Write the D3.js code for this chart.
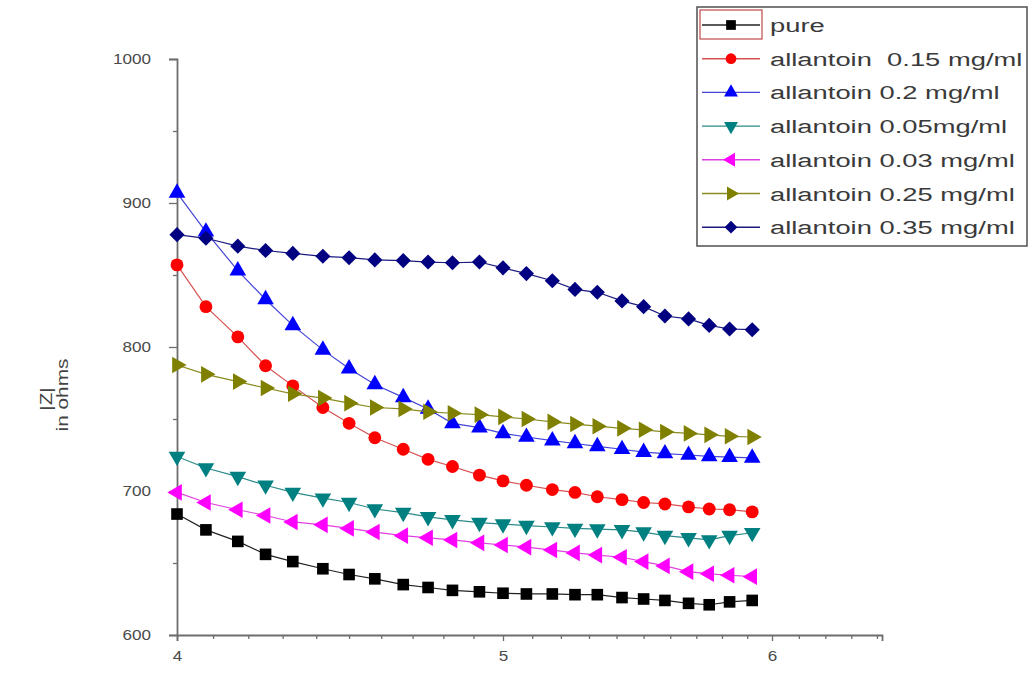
<!DOCTYPE html>
<html>
<head>
<meta charset="utf-8">
<script src="https://cdn.jsdelivr.net/npm/d3@7"></script>
<style>
  html, body { margin: 0; padding: 0; background: #fff; }
  svg { display: block; font-family: "Liberation Sans", Arial, sans-serif; }
</style>
</head>
<body>
<svg id="chart" width="1031" height="675"></svg>
<script>
// ---------- data ----------
const freq = [4.00, 4.08, 4.17, 4.25, 4.33, 4.42, 4.50, 4.58, 4.67, 4.75, 4.83, 4.92,
              5.00, 5.08, 5.17, 5.25, 5.33, 5.42, 5.50, 5.58, 5.67, 5.75, 5.83, 5.92];

const pure   = [684, 673, 665, 656, 651, 646, 642, 639, 635, 633, 631, 630,
                629, 628.5, 628.5, 628, 628, 626, 625, 624, 622, 621, 623, 624];
const a015   = [857, 828, 807, 787, 773, 758, 747, 737, 729, 722, 717, 711,
                707, 704, 701, 699, 696, 694, 692, 691, 689, 687.5, 687, 685.5];
const a02    = [907, 880, 853, 833, 815, 798, 785, 774, 765, 757, 747, 744,
                740, 737.5, 735, 733, 731, 729, 727, 726, 725, 724, 723.5, 723];
const a005   = [724, 716, 710, 704, 699, 695, 692, 687.5, 685, 682, 680, 678,
                677, 676, 675, 674, 673.5, 673, 671.5, 669, 667.5, 666, 669, 671];
const a003   = [699, 692, 687, 683, 678.5, 676.5, 674, 671.5, 669, 667.5, 666, 664,
                662.5, 661, 659, 657, 655.5, 654, 651, 648, 644, 642.5, 641.5, 640.5];
const a025   = [787.5, 781, 776, 771.5, 767.5, 764.5, 761, 758, 757, 755, 754, 753,
                751.5, 750, 748, 746.5, 745, 743.5, 742.5, 741, 740, 739, 738, 737.5];
const a035   = [878, 875.5, 870, 867, 865, 863, 862, 860.5, 860, 859, 858.5, 859,
                855, 851, 846, 840, 838, 832, 828, 821.5, 819.5, 815, 812.5, 812];

const seriesNames = ["pure", "allantoin  0.15 mg/ml", "allantoin 0.2 mg/ml", "allantoin 0.05mg/ml",
                     "allantoin 0.03 mg/ml", "allantoin 0.25 mg/ml", "allantoin 0.35 mg/ml"];
const seriesValues = [pure, a015, a02, a005, a003, a025, a035];

const yTickValues = [600, 700, 800, 900, 1000];
const yTickLabels = ["600", "700", "800", "900", "1000"];
const yMinorTicks = [650, 750, 850, 950];
const xTickValues = [4, 5, 6];
const xTickLabels = ["4", "5", "6"];
const xMinorTicks = [4.1, 4.2, 4.3, 4.4, 4.5, 4.6, 4.7, 4.8, 4.9,
                     5.1, 5.2, 5.3, 5.4, 5.5, 5.6, 5.7, 5.8, 5.9,
                     6.1, 6.2, 6.3, 6.4];
const yTitle = ["|Z|", "in ohms"];

// ---------- styles ----------
const colors  = ["#000000", "#ff0000", "#0000ff", "#008080", "#ff00ff", "#808000", "#000080"];
const lineCol = ["#222222", "#d85050", "#4545d8", "#2a8a8a", "#e040e0", "#8a8a20", "#1a1a80"];
const shapes = [
  {type: d3.symbolSquare,   size: 135, rot: 0},
  {type: d3.symbolCircle,   size: 130, rot: 0},
  {type: d3.symbolTriangle, size: 120, rot: 0},
  {type: d3.symbolTriangle, size: 120, rot: 180},
  {type: d3.symbolTriangle, size: 120, rot: -90},
  {type: d3.symbolTriangle, size: 120, rot: 90},
  {type: d3.symbolSquare,   size: 115, rot: 45}
];

const svg = d3.select("#chart");

// ---------- scales ----------
const x = d3.scaleLog().domain([4, 5, 6, 6.42]).range([177, 503, 772, 882]);
const y = d3.scaleLinear().domain([600, 1000]).range([635, 59]);

const axisColor = "#6e6e6e";
const tickTextColor = "#4a4a4a";
const sx = 1.18;

// ---------- x axis ----------
const gx = svg.append("g").attr("transform", `translate(0,${y(600)})`);
gx.call(d3.axisBottom(x).tickValues(xTickValues).tickSizeOuter(0).tickSize(6)
        .tickFormat((d, i) => xTickLabels[i]));
const gxm = svg.append("g").attr("transform", `translate(0,${y(600)})`);
gxm.call(d3.axisBottom(x).tickValues(xMinorTicks).tickSizeOuter(0).tickSize(4).tickFormat(""));
gxm.select(".domain").remove();
[gx, gxm].forEach(g => {
  g.selectAll(".domain").attr("stroke", axisColor).attr("stroke-width", 1.8);
  g.selectAll(".tick line").attr("stroke", axisColor).attr("stroke-width", 1.3);
});
gx.selectAll(".tick text")
  .attr("fill", tickTextColor).attr("font-size", 14.5)
  .attr("font-family", "Liberation Sans, Arial, sans-serif")
  .attr("y", 16).attr("transform", `scale(${sx},1)`);

// ---------- y axis ----------
const gy = svg.append("g").attr("transform", `translate(${x(4)},0)`);
gy.call(d3.axisLeft(y).tickValues(yTickValues).tickSizeOuter(0).tickSize(8)
        .tickFormat((d, i) => yTickLabels[i]));
const gym = svg.append("g").attr("transform", `translate(${x(4)},0)`);
gym.call(d3.axisLeft(y).tickValues(yMinorTicks).tickSizeOuter(0).tickSize(4).tickFormat(""));
gym.select(".domain").remove();
[gy, gym].forEach(g => {
  g.selectAll(".domain").attr("stroke", axisColor).attr("stroke-width", 1.8);
  g.selectAll(".tick line").attr("stroke", axisColor).attr("stroke-width", 1.3);
});
gy.selectAll(".tick text")
  .attr("fill", tickTextColor).attr("font-size", 14.5)
  .attr("font-family", "Liberation Sans, Arial, sans-serif")
  .attr("x", -26 / sx).attr("transform", `scale(${sx},1)`);

// ---------- y title ----------
const tt = svg.append("g").attr("fill", "#444")
  .attr("font-size", 16).attr("text-anchor", "middle");
tt.append("text").text(yTitle[0])
  .attr("transform", "translate(52,399) rotate(-90) scale(1.3,1)");
tt.append("text").text(yTitle[1])
  .attr("transform", "translate(68,395) rotate(-90) scale(1.3,1)");

// ---------- series ----------
const line = d3.line().x((d, i) => x(freq[i])).y(d => y(d));
seriesValues.forEach((vals, s) => {
  const g = svg.append("g");
  g.append("path").datum(vals)
    .attr("d", line).attr("fill", "none")
    .attr("stroke", lineCol[s]).attr("stroke-width", 1.2);
  const sym = d3.symbol().type(shapes[s].type).size(shapes[s].size);
  g.selectAll("path.m").data(vals).join("path").attr("class", "m")
    .attr("d", sym)
    .attr("transform", (d, i) => `translate(${x(freq[i])},${y(d)}) rotate(${shapes[s].rot})`)
    .attr("fill", colors[s]);
});

// ---------- legend ----------
const lg = svg.append("g");
lg.append("rect").attr("x", 697).attr("y", 7).attr("width", 330).attr("height", 239)
  .attr("fill", "#fff").attr("stroke", "#5a5a5a").attr("stroke-width", 1.6);
lg.append("rect").attr("x", 700).attr("y", 10).attr("width", 62).attr("height", 29)
  .attr("fill", "none").attr("stroke", "#c04848").attr("stroke-width", 1.2);
seriesNames.forEach((name, s) => {
  const cy = 25 + s * 33.7;
  lg.append("line").attr("x1", 702).attr("x2", 760).attr("y1", cy).attr("y2", cy)
    .attr("stroke", lineCol[s]).attr("stroke-width", 1.4);
  const sym = d3.symbol().type(shapes[s].type).size(shapes[s].size * 0.7);
  lg.append("path").attr("d", sym)
    .attr("transform", `translate(731,${cy}) rotate(${shapes[s].rot})`)
    .attr("fill", colors[s]);
  lg.append("text").text(name)
    .attr("transform", `translate(770,${cy + 7}) scale(1.44,1)`)
    .attr("font-size", 19).attr("fill", "#3a3a3a").style("white-space", "pre");
});
</script>
</body>
</html>
